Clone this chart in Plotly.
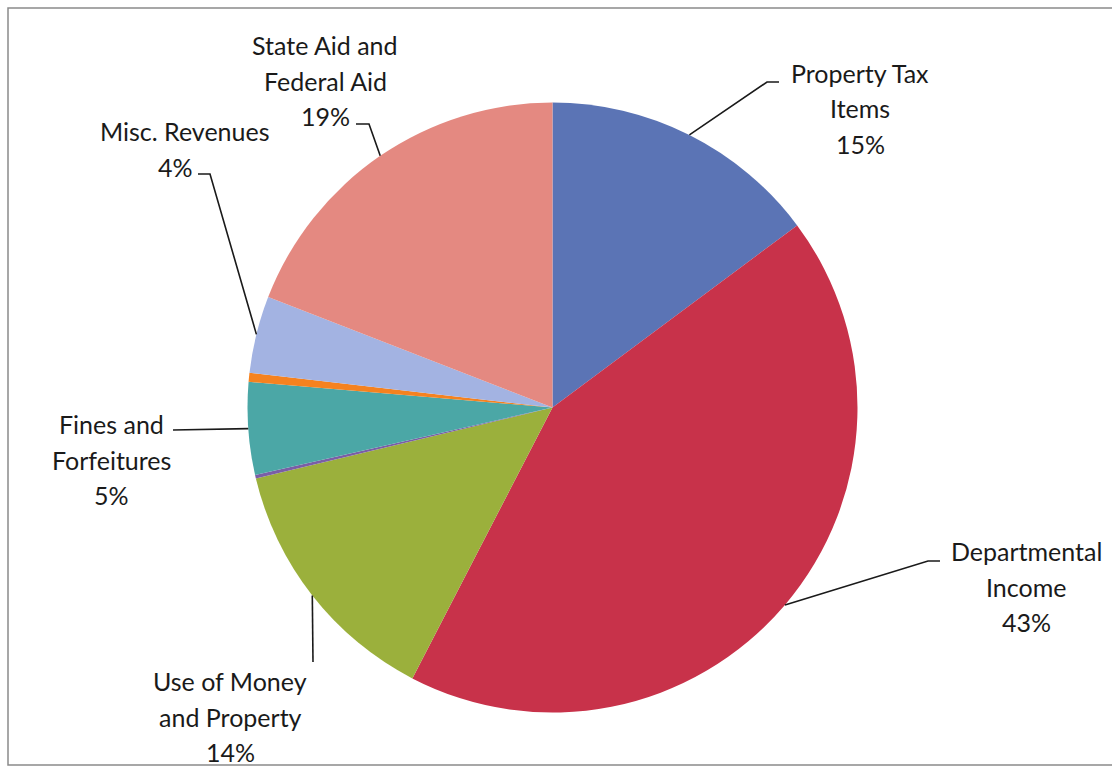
import math
import plotly.graph_objects as go

# Revenue sources (percent of total), clockwise from 12 o'clock
categories = [
    "Property Tax Items",
    "Departmental Income",
    "Use of Money and Property",
    "Licenses and Permits",
    "Fines and Forfeitures",
    "Interfund Transfers",
    "Misc. Revenues",
    "State Aid and Federal Aid",
]
shares = [14.82, 42.79, 13.67, 0.18, 4.90, 0.47, 4.08, 19.11]
colors = ["#5b74b5", "#c8324a", "#9bb03c", "#7a5ea6", "#4ba7a6", "#f5821f", "#a3b3e2", "#e48981"]

# Text lines of each outside label (percent is appended)
label_text = {
    "Property Tax Items": ["Property Tax", "Items"],
    "Departmental Income": ["Departmental", "Income"],
    "Use of Money and Property": ["Use of Money", "and Property"],
    "Fines and Forfeitures": ["Fines and", "Forfeitures"],
    "Misc. Revenues": ["Misc. Revenues"],
    "State Aid and Federal Aid": ["State Aid and", "Federal Aid"],
}

# ---- layout (pixels) ----
W, H = 1112, 766
CX, CY, R = 552.5, 407.5, 305.0
LINE_H = 35.5
FONT = dict(family="Lato, 'Open Sans', sans-serif", size=25, color="#1a1a1a")

# label block placement: centre x, centre y of first line, leader elbow, leader end,
# optional per-line horizontal nudges
placement = {
    "Property Tax Items": dict(x=860, y=73, elbow=(767, 82), end=(779, 82)),
    "Departmental Income": dict(x=1026, y=551, elbow=(928, 561), end=(940, 561)),
    "Use of Money and Property": dict(x=230, y=681, elbow=None, end=(313, 662)),
    "Fines and Forfeitures": dict(x=111, y=424, elbow=None, end=(173, 430)),
    "Misc. Revenues": dict(x=185, y=131, elbow=(210, 174), end=(198, 174), nudge=[0, -10]),
    "State Aid and Federal Aid": dict(x=325, y=45, elbow=(369, 124), end=(356, 124)),
}


def px(x):
    return x / W


def py(y):
    return 1 - y / H


fig = go.Figure(
    go.Pie(
        labels=categories,
        values=shares,
        sort=False,
        direction="clockwise",
        rotation=0,
        marker=dict(colors=colors, line=dict(width=0)),
        textinfo="none",
        hoverinfo="label+percent",
        showlegend=False,
        domain=dict(x=[px(CX - R), px(CX + R)], y=[py(CY + R), py(CY - R)]),
    )
)

total = sum(shares)
annotations = []
shapes = []
cum = 0.0
for name, val in zip(categories, shares):
    start = cum
    cum += val
    if name not in label_text:
        continue
    mid = (start + val / 2) / total * 2 * math.pi
    ex, ey = CX + R * math.sin(mid), CY - R * math.cos(mid)
    p = placement[name]
    pts = [(ex, ey)]
    if p["elbow"] is not None:
        pts.append(p["elbow"])
    pts.append(p["end"])
    path = "M " + " L ".join(f"{px(a):.5f},{py(b):.5f}" for a, b in pts)
    shapes.append(dict(type="path", path=path, xref="paper", yref="paper",
                       line=dict(color="#1a1a1a", width=1.6)))
    lines = label_text[name] + [f"{round(val / total * 100)}%"]
    nudge = p.get("nudge", [0] * len(lines))
    for i, t in enumerate(lines):
        annotations.append(dict(
            text=t, x=px(p["x"] + nudge[i]), y=py(p["y"] + i * LINE_H),
            xref="paper", yref="paper",
            xanchor="center", yanchor="middle", showarrow=False, font=FONT,
        ))

# chart frame
shapes.append(dict(type="rect", xref="paper", yref="paper",
                   x0=px(8), y0=py(765), x1=px(1120), y1=py(8),
                   line=dict(color="#8a8a8a", width=1.5)))

fig.update_layout(
    width=W, height=H,
    margin=dict(l=0, r=0, t=0, b=0),
    paper_bgcolor="white", plot_bgcolor="white",
    annotations=annotations, shapes=shapes,
)

fig.write_html("out.html")
